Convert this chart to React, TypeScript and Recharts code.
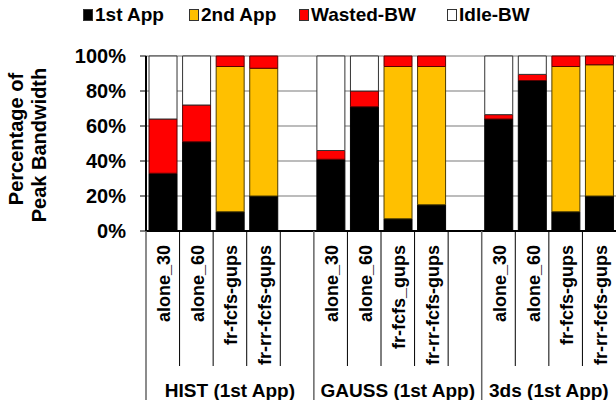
import React from "react";
import { BarChart, Bar, XAxis, YAxis, CartesianGrid } from "recharts";

const categories = [
  "alone_30",
  "alone_60",
  "fr-fcfs-gups",
  "fr-rr-fcfs-gups",
  "",
  "alone_30",
  "alone_60",
  "fr-fcfs_gups",
  "fr-rr-fcfs-gups",
  "",
  "alone_30",
  "alone_60",
  "fr-fcfs-gups",
  "fr-rr-fcfs-gups",
];

const firstApp = [33, 51, 11, 20, null, 41, 71, 7, 15, null, 64, 86, 11, 20];
const secondApp = [0, 0, 83, 73, null, 0, 0, 87, 79, null, 0, 0, 83, 75];
const wastedBW = [31, 21, 6, 7, null, 5, 9, 6, 6, null, 2.5, 3.5, 6, 5];
const idleBW = [36, 28, 0, 0, null, 54, 20, 0, 0, null, 33.5, 10.5, 0, 0];

const groupLabels = ["HIST (1st App)", "GAUSS (1st App)", "3ds (1st App)"];
const groupSizes = [5, 5, 4];

const yTicks = [0, 20, 40, 60, 80, 100];

const data = categories.map((name, i) => ({
  name,
  first: firstApp[i],
  second: secondApp[i],
  wasted: wastedBW[i],
  idle: idleBW[i],
}));

const FONT = "'Liberation Sans', Arial, sans-serif";

// index of first category of every group
const groupStarts = groupSizes.map((_, g) =>
  groupSizes.slice(0, g).reduce((a, b) => a + b, 0)
);

const legendItems = [
  { label: "1st App", color: "#000000", left: 83 },
  { label: "2nd App", color: "#FFC000", left: 189 },
  { label: "Wasted-BW", color: "#FF0000", left: 299 },
  { label: "Idle-BW", color: "#FFFFFF", left: 447 },
];

function CategoryTick(props: any) {
  const { x, y, payload, width } = props;
  const index = payload.index;
  const band = (width || 470) / categories.length;
  const left = x - band / 2;
  const g = groupStarts.indexOf(index);
  const isGroupStart = g >= 0;
  return (
    <g>
      <line
        x1={left}
        x2={left}
        y1={y}
        y2={isGroupStart ? y + 169 : y + 135}
        stroke={isGroupStart ? "#666" : "#000"}
        strokeWidth={isGroupStart ? 1.5 : 1}
      />
      {payload.value ? (
        <text
          transform={`translate(${x + 1}, ${y + 14}) rotate(-90)`}
          textAnchor="end"
          dy="0.36em"
          fontFamily={FONT}
          fontWeight="bold"
          fontSize={18}
          fill="#000"
        >
          {payload.value}
        </text>
      ) : null}
      {isGroupStart ? (
        <text
          x={left + (groupSizes[g] * band) / 2}
          y={y + 159}
          dy="0.36em"
          textAnchor="middle"
          fontFamily={FONT}
          fontWeight="bold"
          fontSize={19}
          fill="#000"
        >
          {groupLabels[g]}
        </text>
      ) : null}
    </g>
  );
}

function YTitle() {
  return (
    <g fontFamily={FONT} fontWeight="bold" fontSize={20} fill="#000">
      <text transform="translate(23, 139) rotate(-90)" textAnchor="middle">
        Percentage of
      </text>
      <text transform="translate(46, 145) rotate(-90)" textAnchor="middle">
        Peak Bandwidth
      </text>
    </g>
  );
}

export default function App() {
  return (
    <div
      style={{
        position: "absolute",
        left: 0,
        top: 0,
        width: 616,
        height: 400,
        background: "#fff",
        overflow: "hidden",
      }}
    >
      <div
        style={{
          position: "absolute",
          top: 4,
          left: 0,
          width: 616,
          height: 24,
          fontFamily: FONT,
          fontWeight: "bold",
          fontSize: 19,
        }}
      >
        {legendItems.map((item) => (
          <div
            key={item.label}
            style={{
              position: "absolute",
              left: item.left,
              top: 0,
              display: "flex",
              alignItems: "center",
              height: 22,
            }}
          >
            <span
              style={{
                display: "inline-block",
                width: 8,
                height: 10,
                background: item.color,
                border: "1px solid #333",
                marginRight: 2,
              }}
            />
            <span>{item.label}</span>
          </div>
        ))}
      </div>
      <BarChart
        width={616}
        height={400}
        data={data}
        margin={{ top: 56, right: 0, bottom: 0, left: 0 }}
        barCategoryGap="9%"
      >
        <CartesianGrid vertical={false} stroke="#a6a6a6" strokeWidth={1.5} />
        <XAxis
          dataKey="name"
          interval={0}
          height={169}
          tickLine={false}
          tickSize={0}
          tickMargin={0}
          axisLine={{ stroke: "#000", strokeWidth: 2 }}
          tick={<CategoryTick />}
        />
        <YAxis
          width={146}
          domain={[0, 100]}
          ticks={yTicks}
          tickFormatter={(v) => `${v}%`}
          tickSize={6}
          tickMargin={14}
          tickLine={{ stroke: "#000" }}
          axisLine={{ stroke: "#000", strokeWidth: 2 }}
          tick={{
            fill: "#000",
            fontFamily: FONT,
            fontWeight: "bold",
            fontSize: 20,
          }}
          label={<YTitle />}
        />
        <Bar dataKey="first" stackId="a" fill="#000000" stroke="#000" isAnimationActive={false} />
        <Bar dataKey="second" stackId="a" fill="#FFC000" stroke="#4d3d00" isAnimationActive={false} />
        <Bar dataKey="wasted" stackId="a" fill="#FF0000" stroke="#5a0000" isAnimationActive={false} />
        <Bar dataKey="idle" stackId="a" fill="#FFFFFF" stroke="#333" isAnimationActive={false} />
      </BarChart>
    </div>
  );
}
